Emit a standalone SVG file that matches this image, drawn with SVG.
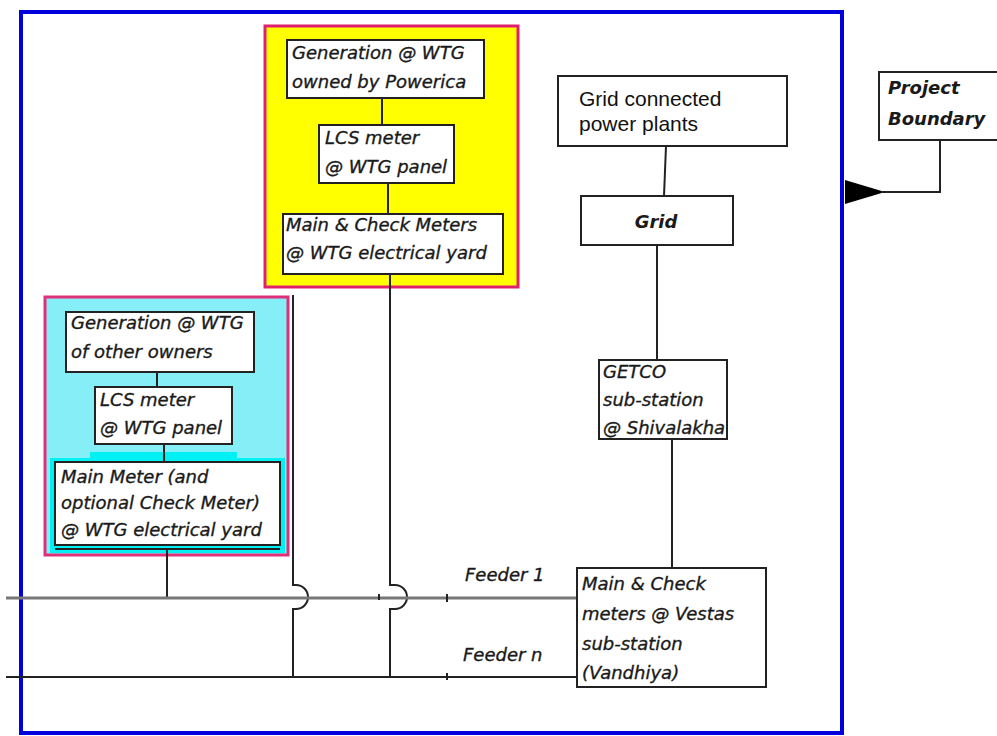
<svg xmlns="http://www.w3.org/2000/svg" width="997" height="736" viewBox="0 0 997 736">
<style>
.box{fill:#ffffff;stroke:#222;stroke-width:2}
.lbl{font-family:"DejaVu Sans",sans-serif;font-style:italic;font-size:18px;fill:#1a1a1a;stroke:#1a1a1a;stroke-width:0.35}
.bld{font-family:"DejaVu Sans",sans-serif;font-style:italic;font-weight:bold;font-size:18px;fill:#1a1a1a}
.arial{font-family:"Liberation Sans",Arial,sans-serif;font-size:21px;fill:#111}
.wire{fill:none;stroke:#222;stroke-width:2}
</style>
<defs>
<marker id="tri" viewBox="0 0 40 24" refX="2" refY="12" markerWidth="40" markerHeight="24" markerUnits="userSpaceOnUse" orient="auto">
<path d="M40,0 L0,12 L40,24 Z" fill="#000"/>
</marker>
</defs>
<rect width="997" height="736" fill="#fff"/>
<g id="project-boundary-frame">
<rect x="21" y="12" width="821" height="721" fill="none" stroke="#0000dd" stroke-width="4"/>
</g>
<g id="powerica-group">
<rect x="265" y="26" width="253" height="261" fill="#ffff00" stroke="#e0206e" stroke-width="3"/>
</g>
<g id="other-owners-group">
<rect x="45" y="297" width="243" height="258" fill="#86eef6" stroke="#e0307a" stroke-width="3"/>
<path d="M90,452 H237 V458 H285 V553 H50 V458 H90 Z" fill="#00f0f4"/>
</g>
<g id="connectors">
<line class="wire" x1="382" y1="98" x2="382" y2="125"/>
<line class="wire" x1="388" y1="183" x2="388" y2="214"/>
<path class="wire" d="M390,274 V585 H395 A12,12 0 0 1 395,609 H390 V677"/>
<path class="wire" d="M293,295 V585 H296 A12,12 0 0 1 296,609 H293 V677"/>
<line class="wire" x1="157" y1="372" x2="157" y2="387"/>
<line class="wire" x1="164" y1="444" x2="164" y2="462"/>
<line class="wire" x1="167" y1="549" x2="167" y2="598"/>
<line x1="6" y1="598" x2="577" y2="598" stroke="#777" stroke-width="3"/>
<line class="wire" x1="6" y1="677" x2="577" y2="677"/>
<line class="wire" x1="447" y1="594" x2="447" y2="602"/>
<line class="wire" x1="447" y1="673" x2="447" y2="680"/>
<line class="wire" x1="379" y1="594" x2="379" y2="600"/>
<line class="wire" x1="666" y1="146" x2="664" y2="196"/>
<line class="wire" x1="657" y1="245" x2="657" y2="360"/>
<line class="wire" x1="672" y1="439" x2="672" y2="568"/>
<path class="wire" d="M940,140 V192 H883" marker-end="url(#tri)"/>
</g>
<g id="gen-powerica">
<rect class="box" x="287" y="40" width="197" height="58"/>
<text class="lbl" x="292" y="59">Generation @ WTG</text>
<text class="lbl" x="292" y="88">owned by Powerica</text>
</g>
<g id="lcs-powerica">
<rect class="box" x="319" y="125" width="135" height="58"/>
<text class="lbl" x="325" y="144">LCS meter</text>
<text class="lbl" x="325" y="173">@ WTG panel</text>
</g>
<g id="main-check-powerica">
<rect class="box" x="283" y="214" width="220" height="60"/>
<text class="lbl" x="286" y="231">Main &amp; Check Meters</text>
<text class="lbl" x="286" y="259">@ WTG electrical yard</text>
</g>
<g id="gen-other">
<rect class="box" x="66" y="312" width="188" height="60"/>
<text class="lbl" x="71" y="329">Generation @ WTG</text>
<text class="lbl" x="71" y="358">of other owners</text>
</g>
<g id="lcs-other">
<rect class="box" x="95" y="387" width="137" height="57"/>
<text class="lbl" x="100" y="406">LCS meter</text>
<text class="lbl" x="100" y="434">@ WTG panel</text>
</g>
<g id="main-other">
<rect class="box" x="55" y="462" width="225" height="83"/>
<line x1="55" y1="549" x2="280" y2="549" stroke="#222" stroke-width="2"/>
<text class="lbl" x="61" y="483">Main Meter (and</text>
<text class="lbl" x="61" y="509">optional Check Meter)</text>
<text class="lbl" x="61" y="536">@ WTG electrical yard</text>
</g>
<g id="grid-plants">
<rect class="box" x="558" y="76" width="229" height="70"/>
<text class="arial" x="579" y="106">Grid connected</text>
<text class="arial" x="579" y="131">power plants</text>
</g>
<g id="grid">
<rect class="box" x="581" y="196" width="152" height="49"/>
<text class="bld" x="656" y="228" text-anchor="middle" font-size="19">Grid</text>
</g>
<g id="getco">
<rect class="box" x="599" y="360" width="128" height="79"/>
<text class="lbl" x="603" y="378" font-size="17.5">GETCO</text>
<text class="lbl" x="603" y="406" font-size="17.5">sub-station</text>
<text class="lbl" x="603" y="434" font-size="17.5">@ Shivalakha</text>
</g>
<g id="vestas">
<rect class="box" x="577" y="568" width="189" height="119"/>
<text class="lbl" x="582" y="590">Main &amp; Check</text>
<text class="lbl" x="582" y="620">meters @ Vestas</text>
<text class="lbl" x="582" y="650">sub-station</text>
<text class="lbl" x="582" y="679">(Vandhiya)</text>
</g>
<g id="feeder-labels">
<text class="lbl" x="465" y="581">Feeder 1</text>
<text class="lbl" x="463" y="661">Feeder n</text>
</g>
<g id="project-boundary">
<rect class="box" x="879" y="72" width="125" height="68"/>
<text class="bld" x="888" y="94">Project</text>
<text class="bld" x="888" y="125">Boundary</text>
</g>
</svg>
